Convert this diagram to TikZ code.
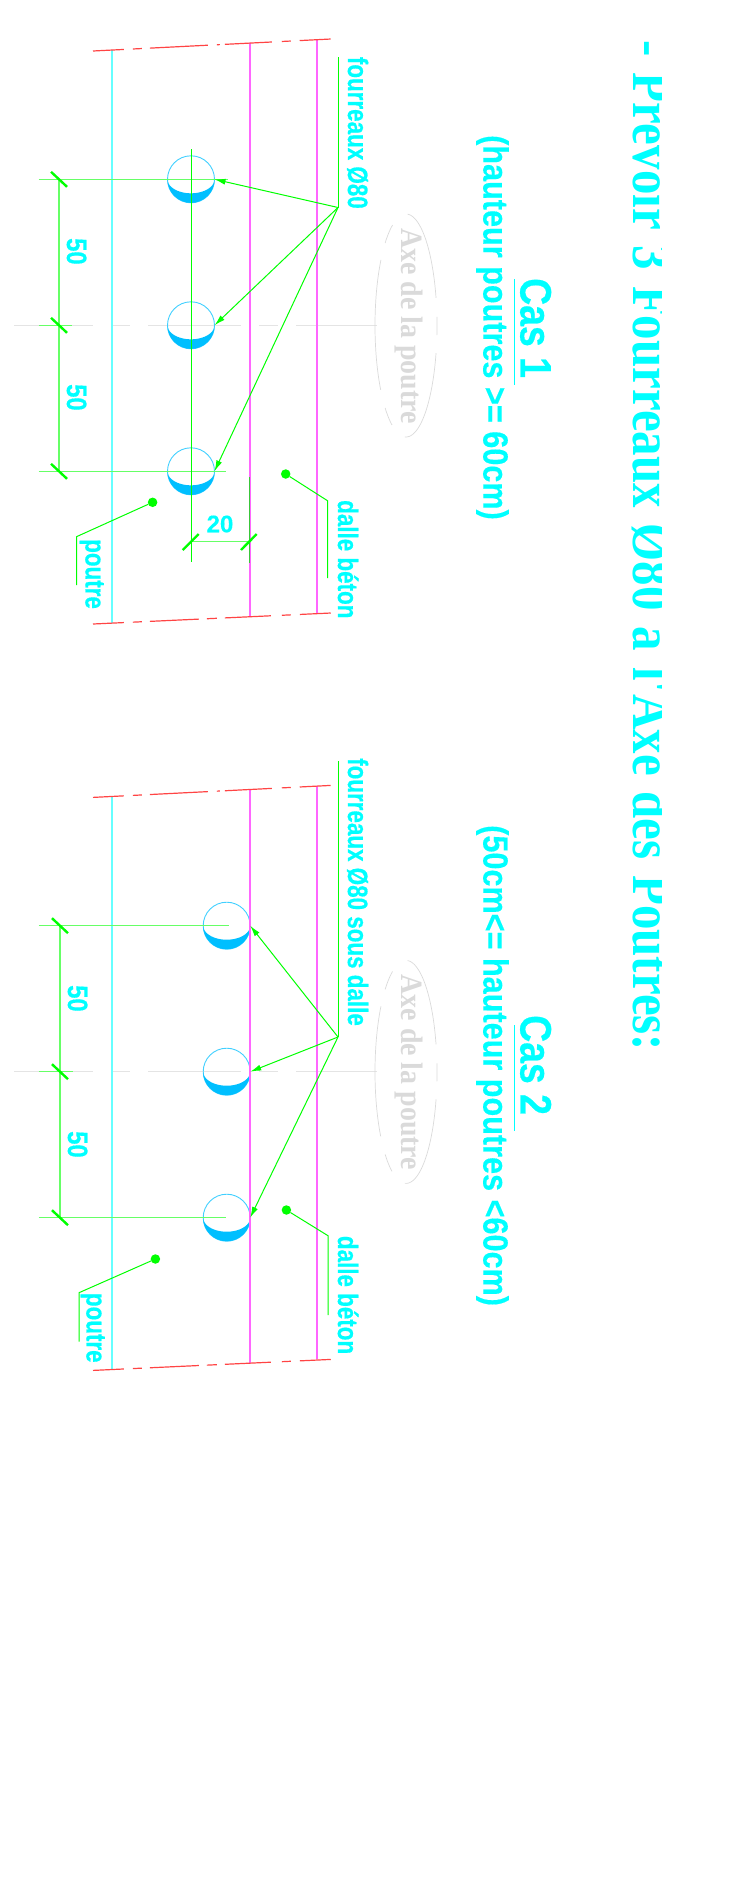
\documentclass[tikz,border=0pt]{standalone}
\usepackage{fontspec}
\usetikzlibrary{arrows.meta}
\newfontfamily\lblfont[FakeStretch=.8,BoldFeatures={FakeBold=.5}]{Liberation Sans}
\newfontfamily\casfont[FakeStretch=.85,BoldFeatures={FakeBold=.5}]{Liberation Sans}
\newfontfamily\hautfont[FakeStretch=.875,BoldFeatures={FakeBold=.3}]{Liberation Sans}
\newfontfamily\cotefont[BoldFeatures={FakeBold=.3}]{Liberation Sans}
\newfontfamily\axefont[FakeStretch=.9]{Liberation Serif}
\newfontfamily\titfont[FakeStretch=.858,WordSpace=1.3]{Liberation Serif}
\definecolor{txtcyan}{HTML}{00FFFF}
\definecolor{poutrecyan}{HTML}{66FFFF}
\definecolor{dallemag}{HTML}{FF66FF}
\definecolor{coupered}{HTML}{FF4444}
\definecolor{axegray}{HTML}{E4E4E4}
\definecolor{ellgray}{HTML}{DADADA}
\definecolor{fourblue}{HTML}{00BFFF}
\definecolor{dimgreen}{HTML}{66FF66}
\tikzset{
  rottxt/.style={rotate=-90,anchor=base west,inner sep=0,text=txtcyan},
  lbl/.style={rottxt,font=\lblfont\bfseries\fontsize{28}{28}\selectfont},
  num/.style={rottxt,font=\casfont\bfseries\fontsize{28}{28}\selectfont},
  fourreau/.style={circle,draw=fourblue!75,line width=.9pt,minimum size=47pt,inner sep=0,outer sep=0},
  leader/.style={draw=green,line width=1pt,-{Latex[length=11pt,width=6pt]}},
  thinlead/.style={draw=green,line width=1pt},
  refdot/.style={circle,fill=green,minimum size=9.5pt,inner sep=0,outer sep=0},
  tick/.style={draw=green,line width=2.4pt},
  coupe/.style={draw=coupered,line width=1.2pt}
}
\begin{document}
\begin{tikzpicture}[x=1pt,y=-1pt]
\useasboundingbox (0,0) rectangle (734,1887);
%title
\begin{scope}
\clip (600,0) rectangle (661,1887);
\node[rottxt,font=\titfont\bfseries\fontsize{57}{57}\selectfont] (titre) at (633,40) {- Prévoir 3 Fourreaux Ø80 à l'Axe des Poutres:};
\end{scope}
%both cases
\foreach \dy/\s/\cx/\dx/\ex in {0/a/191/59/228,746.4/b/226.7/60/229}{
\begin{scope}[shift={(0,\dy)}]
\draw[axegray,line width=1.3pt,dash pattern=on 93pt off 18pt on 19pt off 18pt,dash phase=14pt] (14,325.3)--(377,325.3);
\foreach \i/\yy in {1/179.3,2/325.3,3/471.3}{
\node[fourreau] (f\s\i) at (\cx,\yy) {};
\fill[fourblue] plot[domain=180:0,samples=60] ({\cx+23.5*cos(\x)},{\yy+23.5*sin(\x)}) -- plot[domain=0:180,samples=60] ({\cx+23.5*cos(\x)},{\yy+14*sin(\x)}) -- cycle;
}
\draw[poutrecyan,line width=1.2pt] (112,50)--(112,623);
\draw[dallemag,line width=1.3pt] (250,43)--(250,617);
\draw[dallemag,line width=1.3pt] (317,40)--(317,613);
\draw[coupe,dash pattern=on 31pt off 9pt on 9pt off 8pt on 58pt off 9pt on 3pt off 5pt on 47pt off 10pt on 9pt off 9pt on 31pt off 10pt] (93,51)--(331,39);
\draw[coupe,dash pattern=on 31pt off 9pt on 9pt off 8pt on 49pt off 8pt on 10pt off 8pt on 46pt off 11pt on 9pt off 9pt on 31pt off 10pt] (93,624)--(331,613);
%ellipse
\foreach \ta/\tb in {-87/-14.3,-4.4/4.9,14.3/92,116.9/132.3,144.7/216,227.7/244.3}{
\draw[ellgray,line width=.7pt] plot[smooth,domain=\ta:\tb,samples=30] ({406+31*cos(\x)},{325.5+111.5*sin(\x)});
}
\node[rottxt,text=ellgray,font=\axefont\bfseries\fontsize{31}{31}\selectfont] (axe\s) at (401,228) {Axe de la poutre};
%dimensions
\draw[dimgreen,line width=1.5pt] (\dx,179.3)--(\dx,471.3);
\draw[dimgreen,line width=1.2pt] (38.5,179.3)--(\ex,179.3);
\draw[dimgreen,line width=1.2pt] (38.5,325.3)--(\dx+13,325.3);
\draw[dimgreen,line width=1.2pt] (38.5,471.3)--(226,471.3);
\foreach \yy in {179.3,325.3,471.3}{
\draw[tick] (\dx-8,\yy-7.5)--(\dx+8,\yy+7.5);
}
\draw[txtcyan,line width=.8pt] (514,279)--(514,385);
\end{scope}
}
%case 1 only
\draw[green,line width=1pt] (191,149)--(191,562);
\draw[green!55!gray,line width=1.3pt] (249.5,477)--(249.5,563);
\draw[dimgreen,line width=1.5pt] (190,541.7)--(249,541.7);
\draw[tick] (182.7,550)--(198.7,534);
\draw[tick] (241,550)--(256.7,534);
\node[inner sep=0,text=txtcyan,font=\cotefont\bfseries\fontsize{24}{24}\selectfont] (cota) at (220,524) {20};
%leaders
\coordinate (ja) at (338,207.5);
\coordinate (jat) at (338,57);
\draw[thinlead] (jat)--(ja);
\foreach \i in {1,2,3}{\draw[leader] (ja)--(fa\i.east);}
\coordinate (jb) at (338,1037);
\coordinate (jbt) at (338,761);
\draw[thinlead] (jbt)--(jb);
\foreach \i in {1,2,3}{\draw[leader] (jb)--(fb\i.east);}
%small leaders
\node[refdot] (pa) at (152.6,502.3) {};
\coordinate (pa1) at (76.5,536.7);
\coordinate (pa2) at (76.5,585);
\draw[thinlead] (pa)--(pa1)--(pa2);
\node[refdot] (da) at (285.7,474) {};
\coordinate (da1) at (327.5,500.7);
\coordinate (da2) at (327.5,578);
\draw[thinlead] (da)--(da1)--(da2);
\node[refdot] (pb) at (155.4,1259) {};
\coordinate (pb1) at (79,1292.7);
\coordinate (pb2) at (79,1341.7);
\draw[thinlead] (pb)--(pb1)--(pb2);
\node[refdot] (db) at (286.4,1210) {};
\coordinate (db1) at (328,1235.7);
\coordinate (db2) at (328,1315);
\draw[thinlead] (db)--(db1)--(db2);
%labels
\node[lbl] (foua) at (348,56.7) {fourreaux Ø80};
\node[lbl] (foub) at (348,758) {fourreaux Ø80 sous dalle};
\node[lbl] (dala) at (338,500) {dalle béton};
\node[lbl] (dalb) at (338,1235.7) {dalle béton};
\node[lbl] (poua) at (85.5,539) {poutre};
\node[lbl] (poub) at (86.5,1292.7) {poutre};
\node[num] (cina1) at (67,238) {50};
\node[num] (cina2) at (67,384) {50};
\node[num] (cinb1) at (68,985) {50};
\node[num] (cinb2) at (68,1131) {50};
\node[rottxt,font=\casfont\bfseries\fontsize{44}{44}\selectfont] (casa) at (520.5,278) {Cas 1};
\node[rottxt,font=\casfont\bfseries\fontsize{44}{44}\selectfont] (casb) at (520.5,1015) {Cas 2};
\node[rottxt,font=\hautfont\bfseries\fontsize{35}{35}\selectfont] (hauta) at (483.4,135) {(hauteur poutres >= 60cm)};
\node[rottxt,font=\hautfont\bfseries\fontsize{35}{35}\selectfont] (hautb) at (483.4,825) {(50cm<= hauteur poutres <60cm)};
\end{tikzpicture}
\end{document}
